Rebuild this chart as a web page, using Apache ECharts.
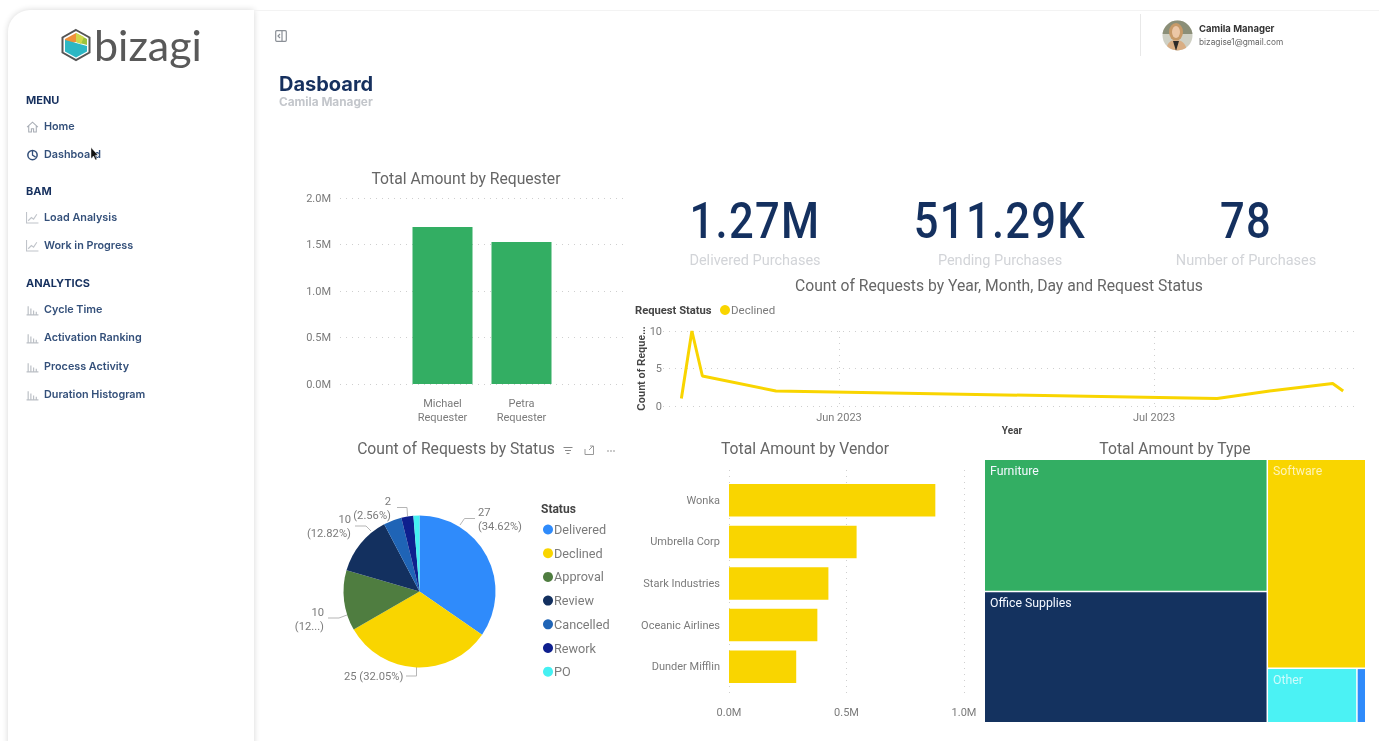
<!DOCTYPE html>
<html><head><meta charset="utf-8">
<script src="https://cdn.jsdelivr.net/npm/echarts@6/dist/echarts.min.js"></script>
<style>
html,body{margin:0;padding:0;width:1379px;height:741px;overflow:hidden;background:#fff;font-family:Inter,sans-serif}
#chart{position:absolute;left:0;top:0;width:1379px;height:741px;filter:blur(.3px)}
#ui{filter:blur(.3px)}
.abs{position:absolute;white-space:nowrap}
#side{position:absolute;left:8px;top:10px;width:246px;height:760px;background:#fff;border-radius:22px 0 0 0;box-shadow:0 0 6px rgba(0,0,0,.16)}
#top{position:absolute;left:254px;top:10px;width:1125px;height:1px;background:#f3f3f3}
.h{font-size:11px;font-weight:700;color:#16305e;left:26px}
.it{font-size:10.800px;font-weight:600;color:#34507a;left:44px}
.ic{position:absolute;left:26px}
.kv{font-family:Roboto,sans-serif;font-weight:500;font-size:50px;color:#14305f;letter-spacing:1.5px;text-align:center;width:300px;line-height:50px;transform:scaleX(.87)}
.kl{font-family:Roboto,sans-serif;font-size:14.500px;color:#d2d4d8;text-align:center;width:300px;line-height:18px}
</style></head><body>
<div id="side"></div><div id="top"></div>
<div id="chart"></div>
<div id="ui"></div>
<script>
// ---------- data ----------
const requesterNames = ['Michael Requester', 'Petra Requester'];
const requesterAmounts = [1688000, 1527000];
const kpiValues = ['1.27M', '511.29K', '78'];
const kpiLabels = ['Delivered Purchases', 'Pending Purchases', 'Number of Purchases'];
const lineDates = ['2023-05-17', '2023-05-18', '2023-05-19', '2023-05-26', '2023-07-07', '2023-07-12', '2023-07-18', '2023-07-19'];
const lineCounts = [1, 10, 4, 2, 1, 2, 3, 2];
const lineTickDates = ['2023-06-01', '2023-07-01'];
const lineTickLabels = ['Jun 2023', 'Jul 2023'];
const statusNames = ['Delivered', 'Declined', 'Approval', 'Review', 'Cancelled', 'Rework', 'PO'];
const statusCounts = [27, 25, 10, 10, 3, 2, 1];
const statusLabels = ['27\n(34.62%)', '25 (32.05%)', '10\n(12...)', '10\n(12.82%)', '', '2\n(2.56%)', ''];
const statusColors = ['#2f8bfb', '#f9d500', '#4f7d40', '#13305f', '#1f64b6', '#0e1f8e', '#45f0f2'];
const vendorNames = ['Wonka', 'Umbrella Corp', 'Stark Industries', 'Oceanic Airlines', 'Dunder Mifflin'];
const vendorAmounts = [878000, 543000, 423000, 376000, 286000];
const typeNames = ['Furniture', 'Office Supplies', 'Software', 'Other', ''];
const typeAmounts = [937000, 929000, 515000, 122000, 12000];
const typeColors = ['#33ae63', '#14325f', '#f9d500', '#4bf2f4', '#2f8bfb'];
const menu = [['MENU', 100, null], ['Home', 126, 'home'], ['Dashboard', 154, 'dash'], ['BAM', 191, null], ['Load Analysis', 217, 'line'], ['Work in Progress', 245, 'line'], ['ANALYTICS', 283, null], ['Cycle Time', 309, 'bar'], ['Activation Ranking', 337, 'bar'], ['Process Activity', 366, 'bar'], ['Duration Histogram', 394, 'bar']];

// ---------- page furniture (not chart marks) ----------
const ui = document.getElementById('ui');
const icons = {
  home: '<path d="M1 6.5 6 2l5 4.5M2.5 5.5V11h2.5V8h2v3h2.5V5.5" fill="none" stroke="#a9aeb6"/>',
  dash: '<circle cx="6" cy="6.5" r="4.3" fill="none" stroke="#34507a" stroke-width="1.4"/><path d="M6 2v4.5l3 2" fill="none" stroke="#34507a" stroke-width="1.2"/>',
  line: '<path d="M.5 1v10h11" fill="none" stroke="#c0c4ca"/><path d="M2 9l3-3 2 1.5L10 3" fill="none" stroke="#c0c4ca"/>',
  bar: '<path d="M.5 11h11M2 11V3M4.5 11V5M7 11V7M9.5 11V8" fill="none" stroke="#bcc0c6" stroke-width="1.1"/>'
};
let html = '';
menu.forEach(([t, y, ic]) => {
  if (!ic) html += `<div class="abs h" style="top:${y - 7}px">${t}</div>`;
  else {
    html += `<svg class="ic" width="13" height="13" style="top:${y - 6}px" viewBox="0 0 12 12">${icons[ic]}</svg>`;
    html += `<div class="abs it" style="top:${y - 6}px">${t}</div>`;
  }
});
html += `<svg class="abs" style="left:60px;top:28px" width="32" height="34" viewBox="0 0 32 34">
<path d="M16 2 29.5 9.5V24.5L16 32 2.500 24.500V9.500Z" fill="#fff" stroke="#555" stroke-width="2"/>
<path d="M16 5 27 11V17L16 14Z" fill="#9cc23c"/><path d="M16 5 5 11V17L16 14Z" fill="#f0913a"/>
<path d="M5 12 16 15 27 18V23.500L16 29.500 5 23.500Z" fill="#2db7c4"/><path d="M16 5V14L21 16 24 9Z" fill="#cfd84a"/></svg>`;
html += `<div class="abs" style="left:94px;top:20px;font:400 43px Lato,sans-serif;color:#595959;line-height:50px">bizagi</div>`;
html += `<svg class="abs" style="left:275px;top:30px" width="12" height="12" viewBox="0 0 12 12"><rect x=".7" y=".7" width="10.600" height="10.600" rx="1" fill="none" stroke="#8a8f96" stroke-width="1.200"/><path d="M7 1v10M5 4 3 6l2 2" fill="none" stroke="#8a8f96" stroke-width="1.200"/></svg>`;
html += `<div class="abs" style="left:279px;top:72px;font:700 20px Inter,sans-serif;color:#16305e;line-height:24px">Dasboard</div>`;
html += `<div class="abs" style="left:279px;top:95px;font:700 11.800px Inter,sans-serif;color:#c3c6cb;line-height:15px">Camila Manager</div>`;
html += `<div class="abs" style="left:1140px;top:14px;width:1px;height:42px;background:#e8e8e8"></div>`;
html += `<svg class="abs" style="left:1162px;top:20px" width="31" height="31" viewBox="0 0 31 31"><defs><clipPath id="c"><circle cx="15.500" cy="15.500" r="15"/></clipPath></defs><g clip-path="url(#c)"><rect width="31" height="31" fill="#cfd0c4"/><path d="M0 0h31v14H0z" fill="#8b8f78"/><ellipse cx="14" cy="12" rx="7" ry="9" fill="#c79a68"/><ellipse cx="14" cy="12" rx="4" ry="6" fill="#ecc7a6"/><path d="M4 31c1-9 5-11 10-11s10 3 11 11z" fill="#d9ae84"/><path d="M11 21l3 10 3-10z" fill="#2c2a28"/></g></svg>`;
html += `<div class="abs" style="left:1199px;top:23px;font:700 9.500px Inter,sans-serif;color:#333;line-height:12px">Camila Manager</div>`;
html += `<div class="abs" style="left:1199px;top:36px;font:400 8.300px Inter,sans-serif;color:#666;line-height:12px">bizagise1@gmail.com</div>`;
html += `<svg class="abs" style="left:88px;top:147px" width="11" height="15" viewBox="0 0 11 15"><path d="M3 0.500v11l2.500-2.500 2 4 1.500-.7-2-4H10z" fill="#111" stroke="#fff" stroke-width=".4"/></svg>`;
html += `<svg class="abs" style="left:562px;top:445px" width="56" height="12" viewBox="0 0 56 12"><path d="M1.500 2.500h9M3 5.500h6M4.500 8.500h3" stroke="#888" fill="none"/><path d="M23 4V9.500h8.500V4M27 5l4-4M28 1h3.500v3.500" stroke="#999" fill="none"/><circle cx="46" cy="6" r=".8" fill="#888"/><circle cx="49" cy="6" r=".8" fill="#888"/><circle cx="52" cy="6" r=".8" fill="#888"/></svg>`;
[755, 1000, 1246].forEach((cx, i) => {
  html += `<div class="abs kv" style="left:${cx - 150}px;top:196px">${kpiValues[i]}</div>`;
  html += `<div class="abs kl" style="left:${cx - 150}px;top:252px">${kpiLabels[i]}</div>`;
});
ui.innerHTML = html;

// ---------- chart ----------
const titleFont = 'Roboto';
const grey = '#7b7b7b';
const dotted = { show: true, lineStyle: { color: '#cfcfcf', type: [1, 5], width: 1 } };
const M = v => (v / 1e6).toFixed(1) + 'M';
const ttl = (text, x, y, o = {}) => ({ text, left: x, top: y, padding: 0, textAlign: o.align || 'center', textStyle: { fontFamily: titleFont, fontSize: o.size || 15.7, fontWeight: o.weight || 400, color: o.color || '#666', lineHeight: 18 } });
const D = s => new Date(s + 'T00:00:00Z').getTime();
const tickTimes = lineTickDates.map(D);
// where each slice's outside label and its leader line sit
const pieLabelSpots = [
  { x: 478, y: 505, align: 'left', line: [[460, 525], [464.5, 518.5], [475, 518.5]] },
  { x: 344, y: 669, align: 'left', line: [[416.5, 667], [416.5, 676], [406, 676]] },
  { x: 324, y: 605, align: 'right', line: [[347, 615], [339, 618], [328, 618]] },
  { x: 351, y: 512, align: 'right', line: [[371, 531], [366, 526], [355, 526]] },
  null,
  { x: 391, y: 494, align: 'right', line: [[407.5, 516], [407, 507.5], [397, 507.5]] },
  null
];
const chart = echarts.init(document.getElementById('chart'), null, { renderer: 'svg' });
chart.setOption({
  animation: false,
  backgroundColor: 'transparent',
  title: [
    ttl('Total Amount by Requester', 466, 169),
    ttl('Count of Requests by Year, Month, Day and Request Status', 999, 276),
    ttl('Count of Requests by Status', 456, 439),
    ttl('Total Amount by Vendor', 805, 439),
    ttl('Total Amount by Type', 1175, 439),
    ttl('Request Status', 635, 301, { align: 'left', size: 11.200, weight: 700, color: '#444' }),
    ttl('Status', 541, 500, { align: 'left', size: 12, weight: 700, color: '#444' })
  ],
  legend: [
    { data: statusNames, orient: 'vertical', padding: 0, left: 543, top: 523, icon: 'circle', itemWidth: 10, itemHeight: 10, itemGap: 10.700, selectedMode: false, textStyle: { fontFamily: titleFont, fontSize: 12.700, color: grey, padding: [0, 0, 0, -4] } },
    { data: ['Declined'], padding: 0, left: 720, top: 304, icon: 'circle', itemWidth: 10, itemHeight: 10, selectedMode: false, textStyle: { fontFamily: titleFont, fontSize: 11.500, color: grey, padding: [0, 0, 0, -4] } }
  ],
  grid: [
    { left: 340, top: 198, width: 287, height: 186 },
    { left: 403, top: 198, width: 158, height: 186 },
    { left: 663, top: 331, width: 692, height: 75 },
    { left: 729, top: 470, width: 235, height: 228 },
    { left: 729, top: 479.500, width: 235, height: 208 }
  ],
  xAxis: [
    { gridIndex: 0, type: 'category', data: [], show: false },
    { gridIndex: 1, type: 'category', data: requesterNames, axisLine: { show: false }, axisTick: { show: false }, axisLabel: { interval: 0, margin: 12, lineHeight: 14, fontFamily: titleFont, fontSize: 11, color: grey, formatter: v => v.replace(' ', '\n') } },
    { gridIndex: 2, type: 'value', min: D('2023-05-15') + 6 * 3600e3, max: D('2023-07-20') + 3 * 3600e3,
      name: 'Year', nameLocation: 'middle', nameGap: 19, nameTextStyle: { fontFamily: titleFont, fontSize: 10, fontWeight: 700, color: '#444', padding: [0, 0, 0, 6] },
      axisLine: { show: false }, axisTick: { show: false, customValues: tickTimes }, splitLine: dotted,
      axisLabel: { customValues: tickTimes, margin: 6, fontFamily: titleFont, fontSize: 11, color: grey, showMinLabel: true, showMaxLabel: true, formatter: v => lineTickLabels[tickTimes.indexOf(v)] } },
    { gridIndex: 3, type: 'value', min: 0, max: 1000000, interval: 500000, axisLine: { show: false }, axisTick: { show: false }, splitLine: dotted, axisLabel: { margin: 9, fontFamily: titleFont, fontSize: 11, color: grey, formatter: M } },
    { gridIndex: 4, type: 'value', min: 0, max: 1000000, show: false }
  ],
  yAxis: [
    { gridIndex: 0, type: 'value', min: 0, max: 2000000, interval: 500000, axisLine: { show: false }, axisTick: { show: false }, splitLine: dotted, axisLabel: { margin: 9, fontFamily: titleFont, fontSize: 11, color: grey, formatter: M } },
    { gridIndex: 1, type: 'value', min: 0, max: 2000000, show: false },
    { gridIndex: 2, type: 'value', min: 0, max: 10, interval: 5, axisLine: { show: false }, axisTick: { show: false }, splitLine: dotted,
      name: 'Count of Reque...', nameLocation: 'middle', nameMoveOverlap: false, nameGap: 17, nameTextStyle: { fontFamily: 'Liberation Sans', fontSize: 10.200, fontWeight: 700, color: '#444' },
      axisLabel: { margin: 1, fontFamily: titleFont, fontSize: 11, color: grey } },
    { gridIndex: 3, type: 'category', data: [], show: false },
    { gridIndex: 4, type: 'category', data: vendorNames, inverse: true, axisLine: { show: false }, axisTick: { show: false }, axisLabel: { margin: 9, fontFamily: titleFont, fontSize: 11, color: grey } }
  ],
  series: [
    { name: 'Amount', type: 'bar', xAxisIndex: 1, yAxisIndex: 1, data: requesterAmounts, barWidth: 60, itemStyle: { color: '#33ae63' } },
    { name: 'Declined', type: 'line', xAxisIndex: 2, yAxisIndex: 2, data: lineDates.map((d, i) => [D(d), lineCounts[i]]), showSymbol: false, lineStyle: { color: '#f9d500', width: 3 }, itemStyle: { color: '#f9d500' } },
    { name: 'Status', type: 'pie', center: [419.500, 591.500], radius: [0, 76], startAngle: 90, clockwise: true,
      data: statusNames.map((n, i) => ({ name: n, value: statusCounts[i], itemStyle: { color: statusColors[i] }, label: { show: !!statusLabels[i] }, labelLine: { show: !!statusLabels[i] } })),
      label: { formatter: p => statusLabels[p.dataIndex], fontFamily: titleFont, fontSize: 11.200, lineHeight: 14.500, color: grey },
      labelLayout: p => { const s = pieLabelSpots[p.dataIndex]; return s ? { x: s.x, y: s.y, align: s.align, verticalAlign: 'top', labelLinePoints: s.line } : {}; },
      labelLine: { length: 8, length2: 14, lineStyle: { color: '#b5b5b5', width: 1 } } },
    { name: 'Vendor', type: 'bar', xAxisIndex: 4, yAxisIndex: 4, data: vendorAmounts, barWidth: 32.500, itemStyle: { color: '#f9d500' } },
    { name: 'Type', type: 'treemap', left: 985, top: 460, width: 380, height: 262, roam: false, nodeClick: false, breadcrumb: { show: false },
      itemStyle: { gapWidth: 1.500, borderWidth: 0 },
      label: { show: true, position: 'insideTopLeft', distance: 5, padding: 0, fontFamily: titleFont, fontSize: 12.300, color: '#f4f8ff' },
      data: typeNames.map((n, i) => ({ name: n, value: typeAmounts[i], itemStyle: { color: typeColors[i] }, label: { color: i >= 2 ? 'rgba(255,255,255,.72)' : '#f4f8ff' } })) }
  ]
});
</script>
</body></html>
